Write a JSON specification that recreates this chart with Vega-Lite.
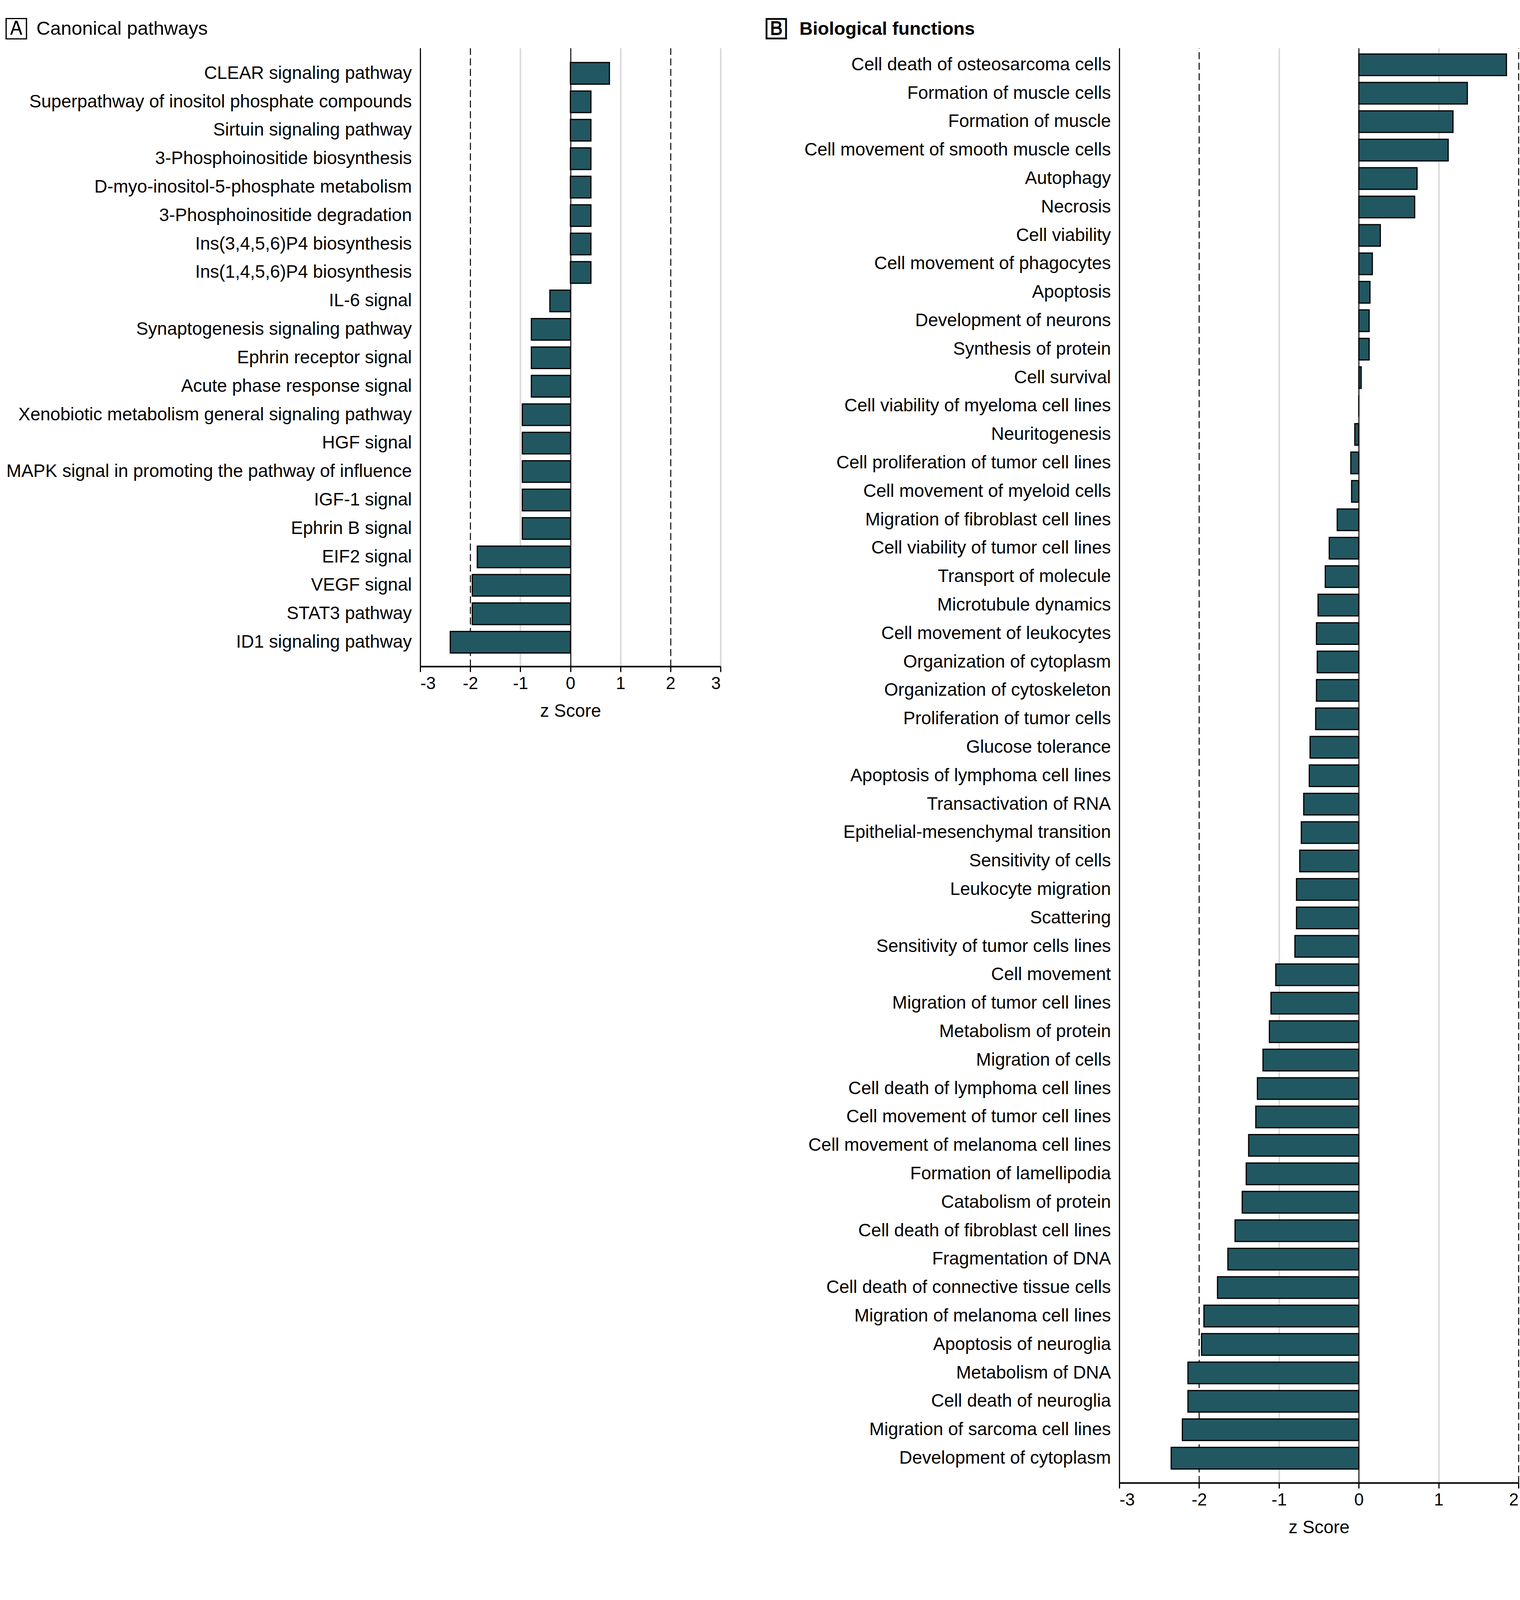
{
  "$schema": "https://vega.github.io/schema/vega-lite/v6.json",
  "background": "white",
  "padding": {"left": 14, "top": 50, "right": 4, "bottom": 20},
  "spacing": 115,
  "config": {
    "font": "Liberation Sans",
    "view": {"stroke": null},
    "axisY": {"ticks": false, "domain": true, "domainColor": "black", "domainWidth": 2.5, "grid": false, "labelPadding": 22, "labelFontSize": 46, "labelColor": "black", "labelLimit": 1500, "title": null},
    "axisX": {"domainColor": "black", "domainWidth": 4, "tickColor": "black", "tickWidth": 3, "tickSize": 14, "labelFontSize": 44, "labelColor": "black", "labelPadding": 8, "titleFontSize": 46, "titleFontWeight": "normal", "titleColor": "black", "titlePadding": 26, "labelExpr": "datum.value + ''"}
  },
  "hconcat": [
    {
      "width": 769,
      "height": 1583,
      "title": {"text": "\ud83c\udd30\u2002Canonical pathways", "anchor": "start", "frame": "bounds", "fontSize": 49, "fontWeight": "normal", "color": "black", "offset": 24, "dx": -1},
      "data": {"values": [
        {"pathway": "CLEAR signaling pathway", "z": 0.78},
        {"pathway": "Superpathway of inositol phosphate compounds", "z": 0.41},
        {"pathway": "Sirtuin signaling pathway", "z": 0.41},
        {"pathway": "3-Phosphoinositide biosynthesis", "z": 0.41},
        {"pathway": "D-myo-inositol-5-phosphate metabolism", "z": 0.41},
        {"pathway": "3-Phosphoinositide degradation", "z": 0.41},
        {"pathway": "Ins(3,4,5,6)P4 biosynthesis", "z": 0.41},
        {"pathway": "Ins(1,4,5,6)P4 biosynthesis", "z": 0.41},
        {"pathway": "IL-6 signal", "z": -0.41},
        {"pathway": "Synaptogenesis signaling pathway", "z": -0.78},
        {"pathway": "Ephrin receptor signal", "z": -0.78},
        {"pathway": "Acute phase response signal", "z": -0.78},
        {"pathway": "Xenobiotic metabolism general signaling pathway", "z": -0.96},
        {"pathway": "HGF signal", "z": -0.96},
        {"pathway": "MAPK signal in promoting the pathway of influence", "z": -0.96},
        {"pathway": "IGF-1 signal", "z": -0.96},
        {"pathway": "Ephrin B signal", "z": -0.96},
        {"pathway": "EIF2 signal", "z": -1.86},
        {"pathway": "VEGF signal", "z": -1.96},
        {"pathway": "STAT3 pathway", "z": -1.96},
        {"pathway": "ID1 signaling pathway", "z": -2.40}
      ]},
      "mark": {"type": "bar", "fill": "#215761", "stroke": "black", "strokeWidth": 3},
      "encoding": {
        "y": {"field": "pathway", "type": "nominal", "sort": null, "scale": {"paddingInner": 0.24, "paddingOuter": 0.49, "align": 0.52}},
        "x": {"field": "z", "type": "quantitative", "scale": {"domain": [-3, 3], "nice": false, "zero": false},
          "axis": {"values": [-3, -2, -1, 0, 1, 2, 3], "title": "z Score", "grid": true,
            "gridColor": {"condition": {"test": "datum.value === 0 || abs(datum.value) === 2 || datum.value === -3", "value": "black"}, "value": "#d9d9d9"},
            "gridWidth": {"condition": {"test": "datum.value === 0 || abs(datum.value) === 2 || datum.value === -3", "value": 2.5}, "value": 4},
            "gridDash": {"condition": {"test": "abs(datum.value) === 2", "value": [18, 9]}, "value": []}}}
      }
    },
    {
      "width": 1022,
      "height": 3673,
      "title": {"text": "\ud83c\udd31\u2002\u2009Biological functions", "anchor": "start", "frame": "bounds", "fontSize": 47, "fontWeight": "bold", "color": "black", "offset": 24, "dx": -97},
      "data": {"values": [
        {"fn": "Cell death of osteosarcoma cells", "z": 1.85},
        {"fn": "Formation of muscle cells", "z": 1.36},
        {"fn": "Formation of muscle", "z": 1.18},
        {"fn": "Cell movement of smooth muscle cells", "z": 1.12},
        {"fn": "Autophagy", "z": 0.73},
        {"fn": "Necrosis", "z": 0.70},
        {"fn": "Cell viability", "z": 0.27},
        {"fn": "Cell movement of phagocytes", "z": 0.17},
        {"fn": "Apoptosis", "z": 0.14},
        {"fn": "Development of neurons", "z": 0.13},
        {"fn": "Synthesis of protein", "z": 0.13},
        {"fn": "Cell survival", "z": 0.03},
        {"fn": "Cell viability of myeloma cell lines", "z": 0},
        {"fn": "Neuritogenesis", "z": -0.05},
        {"fn": "Cell proliferation of tumor cell lines", "z": -0.10},
        {"fn": "Cell movement of myeloid cells", "z": -0.09},
        {"fn": "Migration of fibroblast cell lines", "z": -0.27},
        {"fn": "Cell viability of tumor cell lines", "z": -0.37},
        {"fn": "Transport of molecule", "z": -0.42},
        {"fn": "Microtubule dynamics", "z": -0.51},
        {"fn": "Cell movement of leukocytes", "z": -0.53},
        {"fn": "Organization of cytoplasm", "z": -0.52},
        {"fn": "Organization of cytoskeleton", "z": -0.53},
        {"fn": "Proliferation of tumor cells", "z": -0.54},
        {"fn": "Glucose tolerance", "z": -0.61},
        {"fn": "Apoptosis of lymphoma cell lines", "z": -0.62},
        {"fn": "Transactivation of RNA", "z": -0.69},
        {"fn": "Epithelial-mesenchymal transition", "z": -0.72},
        {"fn": "Sensitivity of cells", "z": -0.74},
        {"fn": "Leukocyte migration", "z": -0.78},
        {"fn": "Scattering", "z": -0.78},
        {"fn": "Sensitivity of tumor cells lines", "z": -0.80},
        {"fn": "Cell movement", "z": -1.04},
        {"fn": "Migration of tumor cell lines", "z": -1.10},
        {"fn": "Metabolism of protein", "z": -1.12},
        {"fn": "Migration of cells", "z": -1.20},
        {"fn": "Cell death of lymphoma cell lines", "z": -1.27},
        {"fn": "Cell movement of tumor cell lines", "z": -1.29},
        {"fn": "Cell movement of melanoma cell lines", "z": -1.38},
        {"fn": "Formation of lamellipodia", "z": -1.41},
        {"fn": "Catabolism of protein", "z": -1.46},
        {"fn": "Cell death of fibroblast cell lines", "z": -1.55},
        {"fn": "Fragmentation of DNA", "z": -1.64},
        {"fn": "Cell death of connective tissue cells", "z": -1.77},
        {"fn": "Migration of melanoma cell lines", "z": -1.94},
        {"fn": "Apoptosis of neuroglia", "z": -1.97},
        {"fn": "Metabolism of DNA", "z": -2.14},
        {"fn": "Cell death of neuroglia", "z": -2.14},
        {"fn": "Migration of sarcoma cell lines", "z": -2.21},
        {"fn": "Development of cytoplasm", "z": -2.35}
      ]},
      "mark": {"type": "bar", "fill": "#215761", "stroke": "black", "strokeWidth": 3},
      "encoding": {
        "y": {"field": "fn", "type": "nominal", "sort": null, "scale": {"paddingInner": 0.24, "paddingOuter": 0.347, "align": 0.3}},
        "x": {"field": "z", "type": "quantitative", "scale": {"domain": [-3, 2], "nice": false, "zero": false},
          "axis": {"values": [-3, -2, -1, 0, 1, 2], "title": "z Score", "grid": true,
            "gridColor": {"condition": {"test": "datum.value === 0 || abs(datum.value) === 2 || datum.value === -3", "value": "black"}, "value": "#d9d9d9"},
            "gridWidth": {"condition": {"test": "datum.value === 0 || abs(datum.value) === 2 || datum.value === -3", "value": 2.5}, "value": 4},
            "gridDash": {"condition": {"test": "abs(datum.value) === 2", "value": [18, 9]}, "value": []}}}
      }
    }
  ]
}
